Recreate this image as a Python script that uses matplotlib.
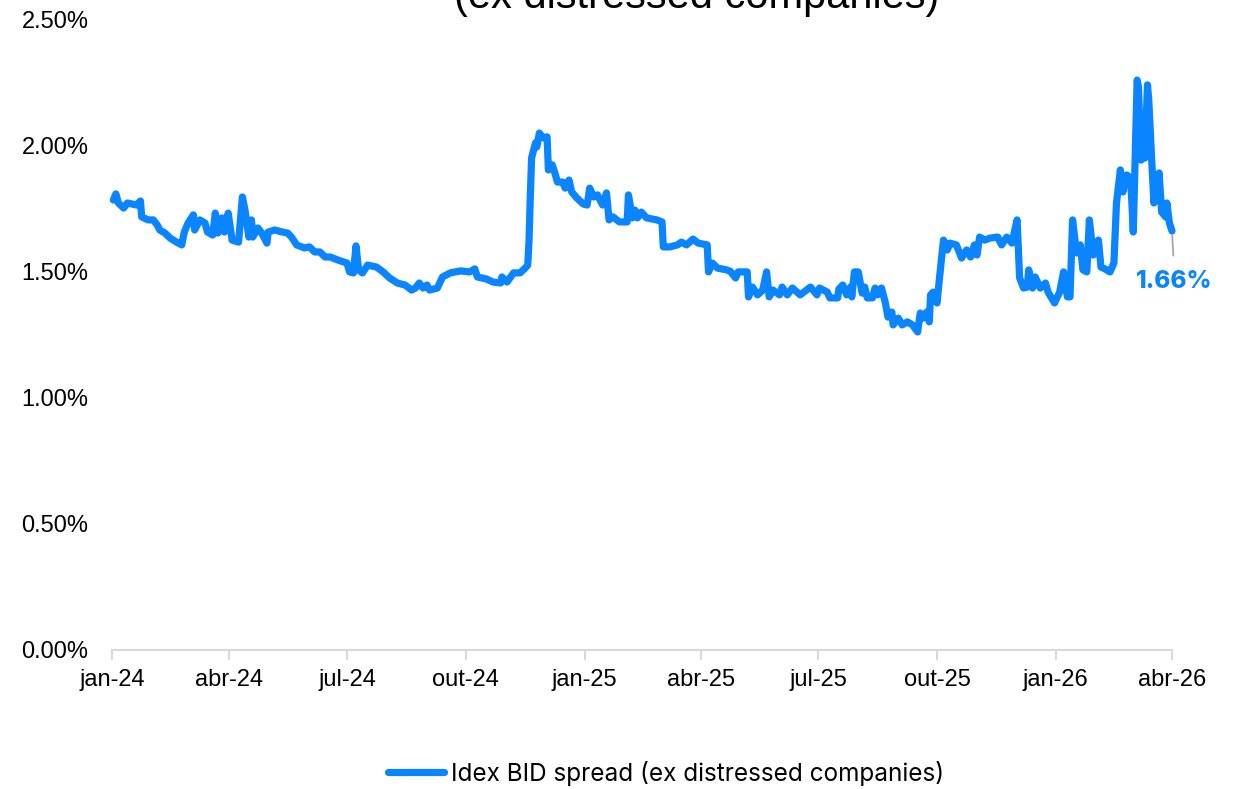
import datetime as dt
import matplotlib
matplotlib.use("Agg")
import matplotlib.pyplot as plt
from matplotlib.ticker import FuncFormatter

# Data (days counted from 2024-01-01, spread in %)
START = dt.date(2024, 1, 1)
obs_day = [
    1, 3, 5, 9, 12, 19, 22, 23, 28, 32, 35, 37, 41, 45, 50, 54, 56, 59, 63, 64,
    68, 72, 74, 78, 80, 82, 85, 87, 90, 93, 98, 101, 103, 106, 108, 109, 113, 116, 120, 121,
    126, 132, 136, 139, 143, 149, 153, 157, 161, 165, 169, 175, 182, 184, 187, 189, 191, 194, 198, 205,
    210, 215, 221, 227, 232, 235, 238, 241, 244, 246, 252, 256, 262, 270, 277, 281, 283, 290, 295, 301,
    302, 306, 311, 316, 320, 322, 323, 324, 325, 328, 329, 331, 334, 337, 338, 341, 343, 345, 349, 351,
    354, 356, 360, 365, 368, 370, 373, 376, 380, 383, 385, 388, 393, 399, 400, 403, 405, 407, 410, 414,
    422, 426, 427, 432, 438, 441, 445, 450, 454, 461, 462, 465, 469, 476, 479, 483, 485, 492, 493, 496,
    500, 504, 507, 509, 512, 517, 519, 523, 527, 533, 541, 546, 548, 554, 556, 562, 563, 566, 569, 572,
    573, 575, 578, 581, 583, 585, 589, 591, 593, 596, 599, 601, 604, 605, 609, 612, 616, 620, 624, 626,
    628, 631, 633, 634, 636, 639, 641, 644, 647, 649, 654, 658, 662, 665, 668, 670, 672, 676, 680, 686,
    689, 693, 697, 701, 703, 706, 709, 710, 713, 715, 719, 723, 725, 730, 734, 737, 740, 742, 744, 747,
    750, 752, 755, 757, 760, 764, 766, 769, 773, 776, 778, 781, 783, 786, 789, 791, 794, 795, 797, 799,
    800, 802, 803, 805, 807, 809, 811, 813, 816, 817, 819, 821,
]
spread = [
    1.783, 1.807, 1.771, 1.751, 1.771, 1.763, 1.779, 1.716, 1.704, 1.704, 1.684, 1.664, 1.652, 1.632, 1.616, 1.605, 1.656, 1.692, 1.724, 1.664,
    1.704, 1.692, 1.656, 1.644, 1.731, 1.652, 1.712, 1.656, 1.731, 1.624, 1.616, 1.795, 1.743, 1.636, 1.704, 1.636, 1.672, 1.652, 1.612, 1.656,
    1.664, 1.656, 1.652, 1.636, 1.605, 1.593, 1.597, 1.577, 1.577, 1.557, 1.557, 1.545, 1.533, 1.498, 1.494, 1.601, 1.506, 1.494, 1.525, 1.517,
    1.498, 1.474, 1.454, 1.446, 1.426, 1.434, 1.454, 1.434, 1.446, 1.426, 1.434, 1.478, 1.494, 1.502, 1.498, 1.510, 1.478, 1.470, 1.458, 1.454,
    1.478, 1.458, 1.494, 1.494, 1.513, 1.525, 1.620, 1.800, 1.950, 2.009, 1.993, 2.048, 2.029, 2.033, 1.902, 1.922, 1.890, 1.854, 1.854, 1.830,
    1.862, 1.815, 1.791, 1.767, 1.763, 1.830, 1.795, 1.803, 1.763, 1.811, 1.704, 1.716, 1.696, 1.696, 1.803, 1.712, 1.743, 1.712, 1.735, 1.712,
    1.704, 1.696, 1.597, 1.597, 1.605, 1.616, 1.605, 1.628, 1.612, 1.605, 1.498, 1.533, 1.513, 1.506, 1.500, 1.474, 1.498, 1.498, 1.399, 1.438,
    1.407, 1.426, 1.498, 1.399, 1.426, 1.407, 1.438, 1.407, 1.434, 1.407, 1.438, 1.407, 1.434, 1.418, 1.395, 1.395, 1.430, 1.446, 1.407, 1.438,
    1.399, 1.498, 1.498, 1.414, 1.438, 1.395, 1.395, 1.434, 1.407, 1.434, 1.375, 1.319, 1.339, 1.288, 1.315, 1.288, 1.300, 1.288, 1.260, 1.335,
    1.315, 1.339, 1.300, 1.407, 1.418, 1.375, 1.478, 1.624, 1.585, 1.612, 1.605, 1.553, 1.585, 1.557, 1.605, 1.565, 1.636, 1.624, 1.632, 1.636,
    1.605, 1.636, 1.612, 1.704, 1.474, 1.434, 1.438, 1.506, 1.434, 1.478, 1.434, 1.454, 1.418, 1.375, 1.418, 1.498, 1.399, 1.399, 1.704, 1.573,
    1.605, 1.506, 1.498, 1.704, 1.565, 1.624, 1.517, 1.510, 1.498, 1.533, 1.771, 1.902, 1.815, 1.882, 1.870, 1.656, 2.258, 2.231, 1.941, 1.981,
    1.949, 2.239, 2.179, 1.969, 1.771, 1.834, 1.890, 1.735, 1.716, 1.771, 1.692, 1.660,
]

MONTHS_PT = {1: "jan", 4: "abr", 7: "jul", 10: "out"}
TICK_DATES = [dt.date(y, m, 1) for y in (2024, 2025, 2026) for m in (1, 4, 7, 10)
              if dt.date(y, m, 1) <= dt.date(2026, 4, 1)]
Y_TICKS = [0.0, 0.5, 1.0, 1.5, 2.0, 2.5]

BLUE = "#0a84ff"
GRAY = "#d9d9d9"

dates = [START + dt.timedelta(days=d) for d in obs_day]

fig = plt.figure(figsize=(12.43, 7.89), dpi=100)
ax = fig.add_axes([112 / 1243, 1 - 650 / 789, (1172 - 112) / 1243, (650 - 19) / 789])

line, = ax.plot(dates, spread, color=BLUE, lw=5.2, solid_capstyle="round",
                solid_joinstyle="round", clip_on=False,
                label="Idex BID spread (ex distressed companies)")

ax.set_xlim(dt.date(2024, 1, 1), dt.date(2026, 4, 1))
ax.set_ylim(0, 2.5)
ax.set_xticks(TICK_DATES)
ax.set_xticklabels([f"{MONTHS_PT[d.month]}-{d.year % 100:02d}" for d in TICK_DATES])
ax.set_yticks(Y_TICKS)
ax.yaxis.set_major_formatter(FuncFormatter(lambda v, p: f"{v:.2f}%"))

for s in ("top", "right", "left"):
    ax.spines[s].set_visible(False)
ax.spines["bottom"].set_color(GRAY)
ax.spines["bottom"].set_linewidth(1.5)
ax.tick_params(axis="x", length=7, width=1.5, color=GRAY, pad=7,
               labelsize=17, labelcolor="#000000")
ax.tick_params(axis="y", length=0, pad=17, labelsize=17, labelcolor="#000000")
for lab in ax.get_xticklabels() + ax.get_yticklabels():
    lab.set_fontfamily("Liberation Sans")

# end-point label
ax.annotate(f"{spread[-1]:.2f}%", xy=(dates[-1], spread[-1]), xytext=(1.5, -36),
            textcoords="offset points", ha="center", va="center",
            fontsize=17.5, fontweight="heavy", color=BLUE, family="Inter",
            annotation_clip=False,
            arrowprops=dict(arrowstyle="-", color="#a6a6a6", lw=1.3,
                            shrinkA=8, shrinkB=3, relpos=(0.5, 1.0)))

# title (only its second line falls inside the canvas, as in the reference)
fig.text(697 / 1243, 1 - 8 / 789, "(ex distressed companies)", ha="center",
         va="baseline", fontsize=30, family="Liberation Sans", color="#000000")

leg = fig.legend(handles=[line], loc="center", bbox_to_anchor=(666 / 1243, 1 - 773 / 789),
                 frameon=False, handlelength=2.3, handletextpad=0.3,
                 prop={"family": "Inter", "size": 17.5})

fig.savefig("out.png", dpi=100)
